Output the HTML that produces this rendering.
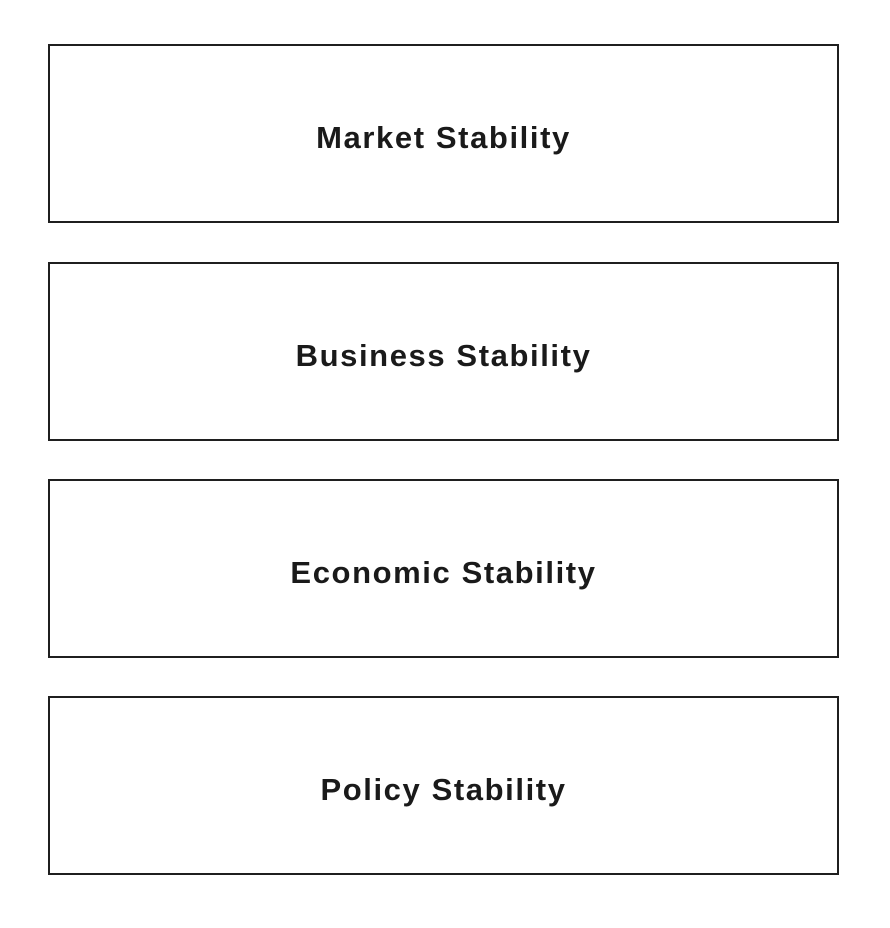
<!DOCTYPE html>
<html><head><style>
html,body{margin:0;padding:0;background:#fff;width:890px;height:928px;overflow:hidden}
.b{position:absolute;left:48px;width:787px;height:175px;border:2px solid #1f1f1f;display:flex;align-items:center;justify-content:center;font-family:"Liberation Sans",sans-serif;font-weight:bold;font-size:31px;letter-spacing:1.6px;color:#1a1a1a;box-sizing:content-box}
.b span{position:relative;top:4px}
</style></head><body>
<div class="b" style="top:44px"><span>Market Stability</span></div>
<div class="b" style="top:262px"><span>Business Stability</span></div>
<div class="b" style="top:479px"><span>Economic Stability</span></div>
<div class="b" style="top:696px"><span>Policy Stability</span></div>
</body></html>
